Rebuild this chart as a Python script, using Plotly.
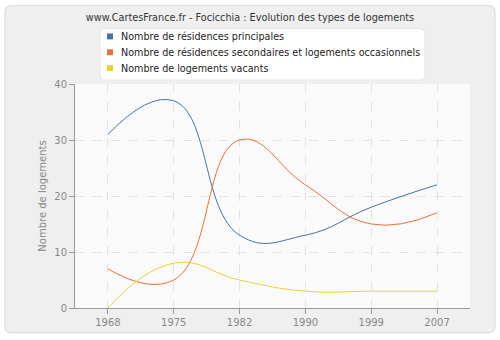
import plotly.graph_objects as go

years = ["1968", "1975", "1982", "1990", "1999", "2007"]
principales = [31, 37, 13, 13, 18, 22]
secondaires = [7, 5, 30, 22, 15, 17]
vacants = [0, 8, 5, 3, 3, 3]

names = ["Nombre de résidences principales",
         "Nombre de résidences secondaires et logements occasionnels",
         "Nombre de logements vacants"]
colors = ["#4572a7", "#e8703a", "#e3d531"]
series = [principales, secondaires, vacants]

FONT = "DejaVu Sans"
fig = go.Figure()
for vals, name, col in zip(series, names, colors):
    fig.add_trace(go.Scatter(x=years, y=vals, mode="lines", name=name,
                             line=dict(color=col, width=1, shape="spline", smoothing=1.3),
                             showlegend=False, hoverinfo="skip"))

L, R, T, B = 75, 30, 84, 30
W, H = 500, 340
pw, ph = W - L - R, H - T - B

def px(x):
    return (x - L) / pw

def py(y):
    return (H - B - y) / ph

def ppath(x0, y0, x1, y1, r):
    rx, ry = r / pw, r / ph
    X0, X1, Y0, Y1 = px(x0), px(x1), py(y0), py(y1)
    return (f"M{X0+rx},{Y0} L{X1-rx},{Y0} Q{X1},{Y0} {X1},{Y0-ry} L{X1},{Y1+ry} "
            f"Q{X1},{Y1} {X1-rx},{Y1} L{X0+rx},{Y1} Q{X0},{Y1} {X0},{Y1+ry} "
            f"L{X0},{Y0-ry} Q{X0},{Y0} {X0+rx},{Y0} Z")

fig.add_shape(type="path", xref="paper", yref="paper", layer="below",
              path=ppath(5, 5, 495, 335, 6),
              line=dict(color="#d8d8d8", width=1), fillcolor="#efefef")
fig.add_shape(type="rect", xref="paper", yref="paper", layer="below",
              x0=0, x1=1, y0=0, y1=1, line=dict(width=0), fillcolor="#fafafa")
fig.add_shape(type="path", xref="paper", yref="paper", layer="below",
              path=ppath(100, 28, 425, 80, 6),
              line=dict(color="#e6e6e6", width=1), fillcolor="white")

# legend (drawn as text + small squares)
row_y = [36, 52, 68]
for name, col, ry in zip(names, colors, row_y):
    fig.add_shape(type="rect", xref="paper", yref="paper",
                  x0=px(107), x1=px(113), y0=py(ry + 3), y1=py(ry - 3),
                  line=dict(width=0), fillcolor=col)
    fig.add_annotation(text=name, xref="paper", yref="paper",
                       x=px(119), y=py(ry), xanchor="left", yanchor="middle",
                       showarrow=False,
                       font=dict(family=FONT, size=9.6, color="#222"))

fig.update_layout(
    width=W, height=H,
    margin=dict(l=L, r=R, t=T, b=B),
    paper_bgcolor="white",
    plot_bgcolor="#fafafa",
    showlegend=False,
    font=dict(family=FONT, size=10, color="#888"),
    title=dict(text="www.CartesFrance.fr - Focicchia : Evolution des types de logements",
               x=0.5, xanchor="center", y=1 - 18 / H, yanchor="middle",
               font=dict(family=FONT, size=9.7, color="#333")),
    xaxis=dict(type="category", range=[-0.5, 5.5], showgrid=True,
               gridcolor="#e2e2e2", griddash="dash", gridwidth=1,
               showline=True, linecolor="#999", linewidth=1,
               ticks="outside", ticklen=5, tickcolor="#999",
               tickfont=dict(family=FONT, size=10, color="#888"), zeroline=False),
    yaxis=dict(range=[0, 40], dtick=10, showgrid=True,
               gridcolor="#e2e2e2", griddash="dash", gridwidth=1,
               showline=True, linecolor="#999", linewidth=1,
               ticks="outside", ticklen=5, tickcolor="#999",
               tickfont=dict(family=FONT, size=10, color="#888"), zeroline=False,
               title=dict(text="Nombre de logements", standoff=5,
                          font=dict(family=FONT, size=10, color="#888"))),
)
fig.write_html("out.html")
